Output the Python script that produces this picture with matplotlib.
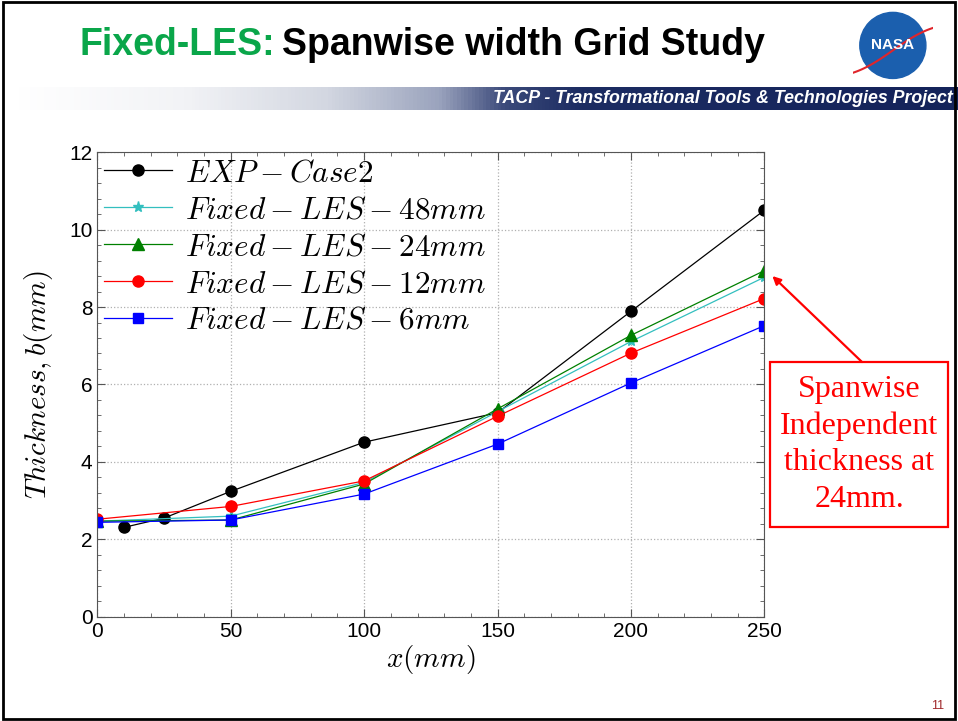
import numpy as np
import matplotlib
matplotlib.use('Agg')
from matplotlib import pyplot as plt
from matplotlib.ticker import AutoMinorLocator
from matplotlib.colors import LinearSegmentedColormap
from matplotlib.patches import Circle, Rectangle

plt.rcParams['mathtext.fontset'] = 'cm'
plt.rcParams['font.family'] = 'Liberation Sans'

# thickness data, x in mm
x_exp = [10, 25, 50, 100, 150, 200, 250]
b_exp = [2.31, 2.55, 3.24, 4.51, 5.27, 7.89, 10.50]

x_les = [0, 50, 100, 150, 200, 250]
b_48mm = [2.47, 2.60, 3.47, 5.30, 7.11, 8.77]
b_24mm = [2.47, 2.50, 3.43, 5.37, 7.27, 8.94]
b_12mm = [2.52, 2.85, 3.51, 5.18, 6.81, 8.22]
b_6mm = [2.44, 2.50, 3.17, 4.46, 6.04, 7.52]

labels = ['$EXP-Case2$', '$Fixed-LES-48mm$', '$Fixed-LES-24mm$',
          '$Fixed-LES-12mm$', '$Fixed-LES-6mm$']

fig = plt.figure(figsize=(9.58, 7.21), dpi=100)

# slide header
t1 = fig.text(0.083, 0.937, 'Fixed-LES:', color='#0aa64a', fontsize=27,
              fontweight='bold', va='center', ha='left')
fig.canvas.draw()
bb = t1.get_window_extent()
fig.text(bb.x1 / fig.bbox.width + 0.007, 0.937, 'Spanwise width Grid Study',
         color='black', fontsize=27, fontweight='bold', va='center', ha='left')

# gradient banner
bax = fig.add_axes([0.016, 0.847, 0.984, 0.033])
grad_cmap = LinearSegmentedColormap.from_list(
    'banner', [(0, '#ffffff'), (0.18, '#f2f3f6'), (0.33, '#d3d7e1'),
               (0.45, '#9aa3bd'), (0.52, '#3b4a7a'), (0.6, '#1c2c62'),
               (1, '#14235a')])
bax.imshow(np.linspace(0, 1, 256)[None, :], aspect='auto', cmap=grad_cmap,
           extent=[0, 1, 0, 1])
bax.axis('off')
fig.text(0.994, 0.863, 'TACP - Transformational Tools & Technologies Project',
         color='white', fontsize=12.8, fontweight='bold', fontstyle='italic',
         ha='right', va='center')

# logo
lax = fig.add_axes([0.886, 0.882, 0.092, 0.11])
lax.set_xlim(-1.2, 1.2)
lax.set_ylim(-1.2, 1.2)
lax.set_aspect('equal')
lax.axis('off')
lax.add_patch(Circle((0, 0), 1.0, color='#1b5fae'))
tt = np.linspace(-1.3, 1.3, 50)
lax.plot(tt, 0.4 * tt + 0.2 * np.sin(tt * 1.5) - 0.15, color='#e0252b', lw=1.5)
lax.text(0, 0, 'NASA', color='white', fontsize=11, fontweight='bold',
         ha='center', va='center')

# main plot
ax = fig.add_axes([0.1016, 0.1445, 0.6963, 0.6445])
ax.plot(x_exp, b_exp, '-o', color='k', lw=0.9, ms=8, label=labels[0])
ax.plot(x_les, b_48mm, '-*', color=(0.2, 0.75, 0.75), lw=0.9, ms=8, label=labels[1])
ax.plot(x_les, b_24mm, '-^', color=(0, 0.5, 0), lw=0.9, ms=8, label=labels[2])
ax.plot(x_les, b_12mm, '-o', color='r', lw=0.9, ms=8, label=labels[3])
ax.plot(x_les, b_6mm, '-s', color='b', lw=0.9, ms=6.5, label=labels[4])

ax.set_xlim(0, 250)
ax.set_ylim(0, 12)
ax.set_xticks([0, 50, 100, 150, 200, 250])
ax.set_yticks([0, 2, 4, 6, 8, 10, 12])
ax.xaxis.set_minor_locator(AutoMinorLocator(5))
ax.yaxis.set_minor_locator(AutoMinorLocator(5))
ax.tick_params(which='both', direction='in', top=True, right=True,
               color='#555555', labelsize=15)
ax.tick_params(which='major', length=6)
ax.tick_params(which='minor', length=3)
for s in ax.spines.values():
    s.set_color('#555555')
ax.grid(True, which='major', linestyle=':', color='#b0b0b0', lw=0.9)

ax.set_xlabel('$x(mm)$', fontsize=21, labelpad=2)
ax.set_ylabel('$Thickness, b(mm)$', fontsize=21, labelpad=10)

ax.legend(loc='upper left', frameon=False, fontsize=22.5, handlelength=2.2,
          labelspacing=0.22, borderaxespad=0.05, handletextpad=0.4,
          borderpad=0.15)

# annotation box with arrow
fig.text(0.8967, 0.3835, 'Spanwise\nIndependent\nthickness at\n24mm.',
         color='red', fontsize=23, family='Liberation Serif', ha='center',
         va='center', linespacing=1.33)
fig.patches.append(Rectangle((770 / 958, 1 - 527 / 721), 178 / 958, 165 / 721,
                             transform=fig.transFigure, fill=False,
                             edgecolor='red', lw=1.6))
ax.annotate('', xy=(253, 8.8), xycoords='data',
            xytext=(862 / 958, 1 - 362 / 721), textcoords='figure fraction',
            arrowprops=dict(arrowstyle='-|>', color='red', lw=1.6,
                            mutation_scale=12, shrinkA=0, shrinkB=0),
            annotation_clip=False)

# page number and slide border
fig.text(0.986, 0.012, '11', color='#a0282a', fontsize=9, ha='right', va='bottom')
fig.patches.append(Rectangle((0.003, 0.003), 0.994, 0.994,
                             transform=fig.transFigure, fill=False,
                             edgecolor='black', lw=2))

fig.savefig('out.png', dpi=100)
